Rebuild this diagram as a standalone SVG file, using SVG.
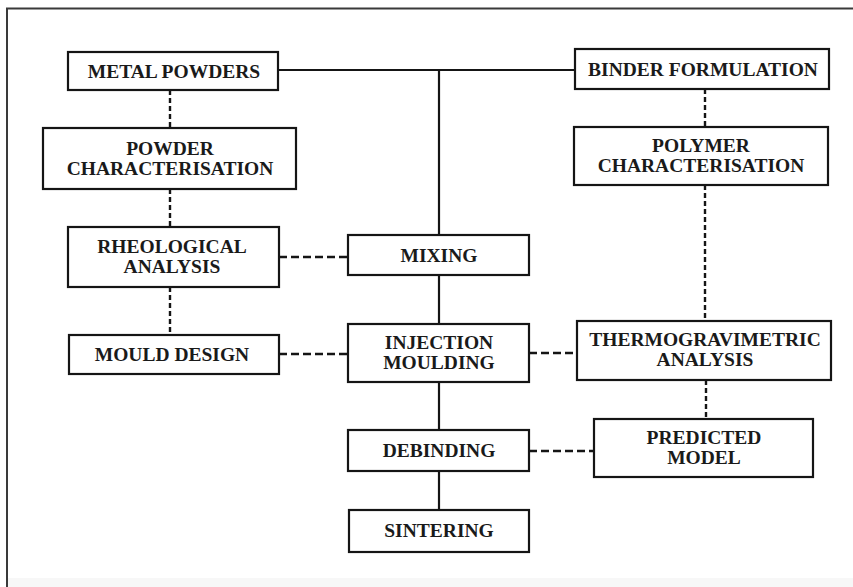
<svg xmlns="http://www.w3.org/2000/svg" width="853" height="587" viewBox="0 0 853 587">
  <style>
    .box { fill: #ffffff; stroke: #151515; stroke-width: 2.2; }
    .lbl { font-family: "Liberation Serif", "Times New Roman", serif; font-weight: bold; font-size: 19.5px; fill: #1a1a1a; text-anchor: middle; }
    .solid { stroke: #151515; stroke-width: 2.2; fill: none; }
    .dashh { stroke: #151515; stroke-width: 2.4; fill: none; stroke-dasharray: 8 4; }
    .dashv { stroke: #151515; stroke-width: 2.4; fill: none; stroke-dasharray: 5 3; }
    .frame { stroke: #3a3a3a; stroke-width: 2; fill: none; }
  </style>
  <rect x="0" y="0" width="853" height="587" fill="#ffffff"/>
  <!-- page frame -->
  <path class="frame" d="M7,587 V8.5 H853"/>
  <rect x="8" y="578" width="845" height="9" fill="#f7f7f7"/>

  <!-- connectors -->
  <g id="connectors">
    <path class="solid" d="M278,70 H575"/>
    <path class="solid" d="M439,70 V235"/>
    <path class="solid" d="M439,275 V324"/>
    <path class="solid" d="M439,382 V430"/>
    <path class="solid" d="M439,471 V510"/>
    <path class="dashv" d="M170,90 V128"/>
    <path class="dashv" d="M170,189 V227"/>
    <path class="dashv" d="M170,287 V335"/>
    <path class="dashv" d="M705,89 V127"/>
    <path class="dashv" d="M705,185 V321"/>
    <path class="dashv" d="M706,380 V419"/>
    <path class="dashh" d="M279,257 H348"/>
    <path class="dashh" d="M279,354 H348"/>
    <path class="dashh" d="M529,353 H577"/>
    <path class="dashh" d="M529,451 H594"/>
  </g>

  <g id="metal-powders">
    <rect class="box" x="68" y="52" width="210" height="38"/>
    <text class="lbl" x="174" y="78">METAL POWDERS</text>
  </g>
  <g id="powder-characterisation">
    <rect class="box" x="43" y="128" width="253" height="61"/>
    <text class="lbl" x="170" y="155">POWDER</text>
    <text class="lbl" x="170" y="175">CHARACTERISATION</text>
  </g>
  <g id="rheological-analysis">
    <rect class="box" x="68" y="227" width="211" height="60"/>
    <text class="lbl" x="172" y="253">RHEOLOGICAL</text>
    <text class="lbl" x="172" y="273">ANALYSIS</text>
  </g>
  <g id="mould-design">
    <rect class="box" x="69" y="335" width="210" height="39"/>
    <text class="lbl" x="172" y="361">MOULD DESIGN</text>
  </g>
  <g id="mixing">
    <rect class="box" x="348" y="235" width="181" height="40"/>
    <text class="lbl" x="439" y="262">MIXING</text>
  </g>
  <g id="injection-moulding">
    <rect class="box" x="348" y="324" width="181" height="58"/>
    <text class="lbl" x="439" y="349">INJECTION</text>
    <text class="lbl" x="439" y="369">MOULDING</text>
  </g>
  <g id="debinding">
    <rect class="box" x="348" y="430" width="181" height="41"/>
    <text class="lbl" x="439" y="457">DEBINDING</text>
  </g>
  <g id="sintering">
    <rect class="box" x="349" y="510" width="180" height="42"/>
    <text class="lbl" x="439" y="537">SINTERING</text>
  </g>
  <g id="binder-formulation">
    <rect class="box" x="575" y="49" width="254" height="40"/>
    <text class="lbl" x="703" y="76">BINDER FORMULATION</text>
  </g>
  <g id="polymer-characterisation">
    <rect class="box" x="574" y="127" width="254" height="58"/>
    <text class="lbl" x="701" y="152">POLYMER</text>
    <text class="lbl" x="701" y="172">CHARACTERISATION</text>
  </g>
  <g id="thermogravimetric-analysis">
    <rect class="box" x="577" y="321" width="254" height="59"/>
    <text class="lbl" x="705" y="346">THERMOGRAVIMETRIC</text>
    <text class="lbl" x="705" y="366">ANALYSIS</text>
  </g>
  <g id="predicted-model">
    <rect class="box" x="594" y="419" width="219" height="58"/>
    <text class="lbl" x="704" y="444">PREDICTED</text>
    <text class="lbl" x="704" y="464">MODEL</text>
  </g>
</svg>
